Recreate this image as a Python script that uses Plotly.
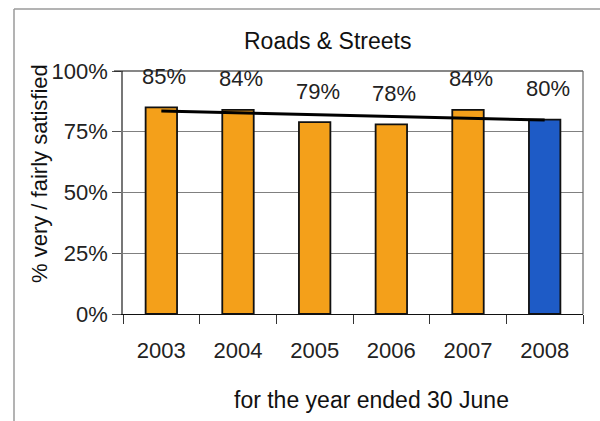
import plotly.graph_objects as go

# Survey results: share of residents very / fairly satisfied with roads & streets
years = ["2003", "2004", "2005", "2006", "2007", "2008"]
satisfied_pct = [85, 84, 79, 78, 84, 80]
bar_colors = ["#F4A01A", "#F4A01A", "#F4A01A", "#F4A01A", "#F4A01A", "#1E5BC6"]

# Linear trend line end points (first and last year)
trend_years = ["2003", "2008"]
trend_pct = [83.5, 79.8]

y_ticks = [0, 25, 50, 75, 100]
y_tick_text = ["0%", "25%", "50%", "75%", "100%"]

W, H = 600, 421
L, R, T, B = 123, 17, 71, 107
pw, ph = W - L - R, H - T - B


def px_x(p):
    return (p - L) / pw


def px_y(p):
    return (H - B - p) / ph


FONT = "Liberation Sans, Arial, Helvetica, sans-serif"

fig = go.Figure()

fig.add_trace(go.Bar(
    x=years,
    y=satisfied_pct,
    marker=dict(color=bar_colors, line=dict(color="#111111", width=1.8)),
    width=0.41,
    hoverinfo="x+y",
))

fig.add_trace(go.Scatter(
    x=trend_years,
    y=trend_pct,
    mode="lines",
    line=dict(color="#000000", width=3),
    hoverinfo="skip",
))

# Value labels above each bar (category index used as x position)
for i, v in enumerate(satisfied_pct):
    fig.add_annotation(
        x=i, y=v, xref="x", yref="y", text=f"{v}%", showarrow=False,
        xanchor="center", yanchor="middle",
        xshift=3, yshift=31,
        font=dict(family=FONT, size=22, color="#222222"),
    )

# Chart title and axis titles
fig.add_annotation(
    x=px_x(327), y=px_y(41), xref="paper", yref="paper",
    xanchor="center", yanchor="middle",
    text="Roads & Streets", showarrow=False,
    font=dict(family=FONT, size=23, color="#111111"),
)
fig.add_annotation(
    x=px_x(39), y=px_y(174), xref="paper", yref="paper",
    xanchor="center", yanchor="middle",
    text="% very / fairly satisfied", showarrow=False, textangle=-90,
    font=dict(family=FONT, size=22, color="#111111"),
)
fig.add_annotation(
    x=px_x(371), y=px_y(400), xref="paper", yref="paper",
    xanchor="center", yanchor="middle",
    text="for the year ended 30 June", showarrow=False,
    font=dict(family=FONT, size=23, color="#111111"),
)

shapes = [
    # outer chart frame (left and top edges)
    dict(type="line", xref="paper", yref="paper",
         x0=px_x(14), x1=px_x(14), y0=px_y(9), y1=px_y(421),
         line=dict(color="#9a9a9a", width=1.5)),
    dict(type="line", xref="paper", yref="paper",
         x0=px_x(14), x1=px_x(600), y0=px_y(9), y1=px_y(9),
         line=dict(color="#9a9a9a", width=1.5)),
    # plot area top and right edges
    dict(type="line", xref="paper", yref="paper",
         x0=px_x(114), x1=1, y0=1, y1=1,
         line=dict(color="#111111", width=1.2)),
    dict(type="line", xref="paper", yref="paper",
         x0=1, x1=1, y0=0, y1=1,
         line=dict(color="#666666", width=1.2)),
]

fig.update_layout(
    width=W, height=H,
    margin=dict(l=L, r=R, t=T, b=B),
    paper_bgcolor="white",
    plot_bgcolor="white",
    showlegend=False,
    shapes=shapes,
    font=dict(family=FONT, size=22, color="#222222"),
)

fig.update_xaxes(
    type="category",
    tickson="boundaries",
    ticks="outside", ticklen=9, tickcolor="#333333", tickwidth=1.2,
    ticklabelstandoff=16,
    showline=True, linecolor="#111111", linewidth=1.2,
    showgrid=False,
    tickfont=dict(family=FONT, size=22, color="#222222"),
    range=[-0.5, 5.5],
)

fig.update_yaxes(
    range=[0, 100],
    tickvals=y_ticks, ticktext=y_tick_text,
    ticks="outside", ticklen=9, tickcolor="#555555", tickwidth=1.2,
    showline=True, linecolor="#777777", linewidth=1.5,
    showgrid=True, gridcolor="#808080", gridwidth=1.2,
    zeroline=False,
    tickfont=dict(family=FONT, size=22, color="#222222"),
)

fig.write_html("out.html")
